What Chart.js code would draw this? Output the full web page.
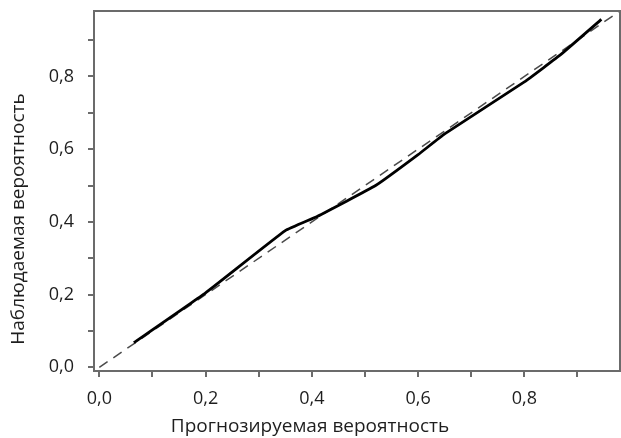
<!DOCTYPE html>
<html>
<head>
<meta charset="utf-8">
<script src="https://cdn.jsdelivr.net/npm/chart.js@4"></script>
<style>
  html, body { margin: 0; padding: 0; background: #fff; }
  #wrap { width: 621px; height: 438px; }
</style>
</head>
<body>
<div id="wrap"><canvas id="c" width="621" height="438"></canvas></div>
<script>
const predicted = [0.065, 0.20, 0.35, 0.41, 0.52, 0.60, 0.65, 0.80, 0.87, 0.945];
const observed  = [0.068, 0.205, 0.376, 0.415, 0.50, 0.585, 0.642, 0.785, 0.862, 0.957];
const diagonal = [0, 0.98];
const xTitle = 'Прогнозируемая вероятность';
const yTitle = 'Наблюдаемая вероятность';

const FONT = '"Open Sans", "Noto Sans", sans-serif';
const AXIS = '#6b6b6b';
const TEXT = '#1e1e1e';

function fmt(v) {
  const k = Math.round(v * 10);
  if (k % 2 !== 0) return '';
  return (k / 10).toFixed(1).replace('.', ',');
}

const frame = {
  id: 'frame',
  afterDatasetsDraw(chart) {
    const a = chart.chartArea, ctx = chart.ctx;
    ctx.save();
    ctx.strokeStyle = AXIS;
    ctx.lineWidth = 2;
    ctx.beginPath();
    ctx.moveTo(a.left, a.top);
    ctx.lineTo(a.right, a.top);
    ctx.lineTo(a.right, a.bottom);
    ctx.stroke();
    ctx.restore();
  }
};

new Chart(document.getElementById('c'), {
  type: 'scatter',
  data: {
    datasets: [
      {
        data: predicted.map((x, i) => ({ x: x, y: observed[i] })),
        showLine: true,
        borderColor: '#000',
        borderWidth: 2.8,
        tension: 0.1,
        pointRadius: 0,
        fill: false
      },
      {
        data: diagonal.map(v => ({ x: v, y: v })),
        showLine: true,
        borderColor: '#4a4a4a',
        borderWidth: 1.5,
        borderDash: [10, 7],
        pointRadius: 0,
        fill: false
      }
    ]
  },
  options: {
    responsive: false,
    animation: false,
    devicePixelRatio: 1,
    layout: { padding: { top: 0, right: 1, bottom: 0, left: 0 } },
    plugins: {
      legend: { display: false },
      tooltip: { enabled: false },
      title: {
        display: true,
        position: 'bottom',
        text: xTitle,
        color: TEXT,
        font: { family: FONT, size: 19, weight: 'normal' },
        padding: { top: 2, bottom: 0 }
      },
      subtitle: {
        display: true,
        position: 'left',
        text: yTitle,
        color: TEXT,
        font: { family: FONT, size: 19, weight: 'normal' },
        padding: { top: 7, bottom: 0 }
      }
    },
    scales: {
      x: {
        type: 'linear',
        min: -0.01,
        max: 0.98,
        border: { display: true, color: AXIS, width: 2 },
        grid: { display: true, drawOnChartArea: false, drawTicks: true, tickLength: 6, color: AXIS, lineWidth: 2 },
        ticks: {
          stepSize: 0.1,
          includeBounds: false,
          autoSkip: false,
          maxRotation: 0,
          padding: 11,
          color: TEXT,
          font: { family: FONT, size: 18 },
          callback: v => fmt(v)
        },
        afterFit: s => { s.height = 42.2; }
      },
      y: {
        type: 'linear',
        min: -0.01,
        max: 0.98,
        border: { display: true, color: AXIS, width: 2 },
        grid: { display: true, drawOnChartArea: false, drawTicks: true, tickLength: 6, color: AXIS, lineWidth: 2 },
        ticks: {
          stepSize: 0.1,
          includeBounds: false,
          autoSkip: false,
          padding: 14,
          color: TEXT,
          font: { family: FONT, size: 18 },
          callback: v => fmt(v)
        },
        afterFit: s => { s.width = 94 - 29.8; s.paddingTop = 11; s.paddingBottom = 11; }
      }
    }
  },
  plugins: [frame]
});
</script>
</body>
</html>
